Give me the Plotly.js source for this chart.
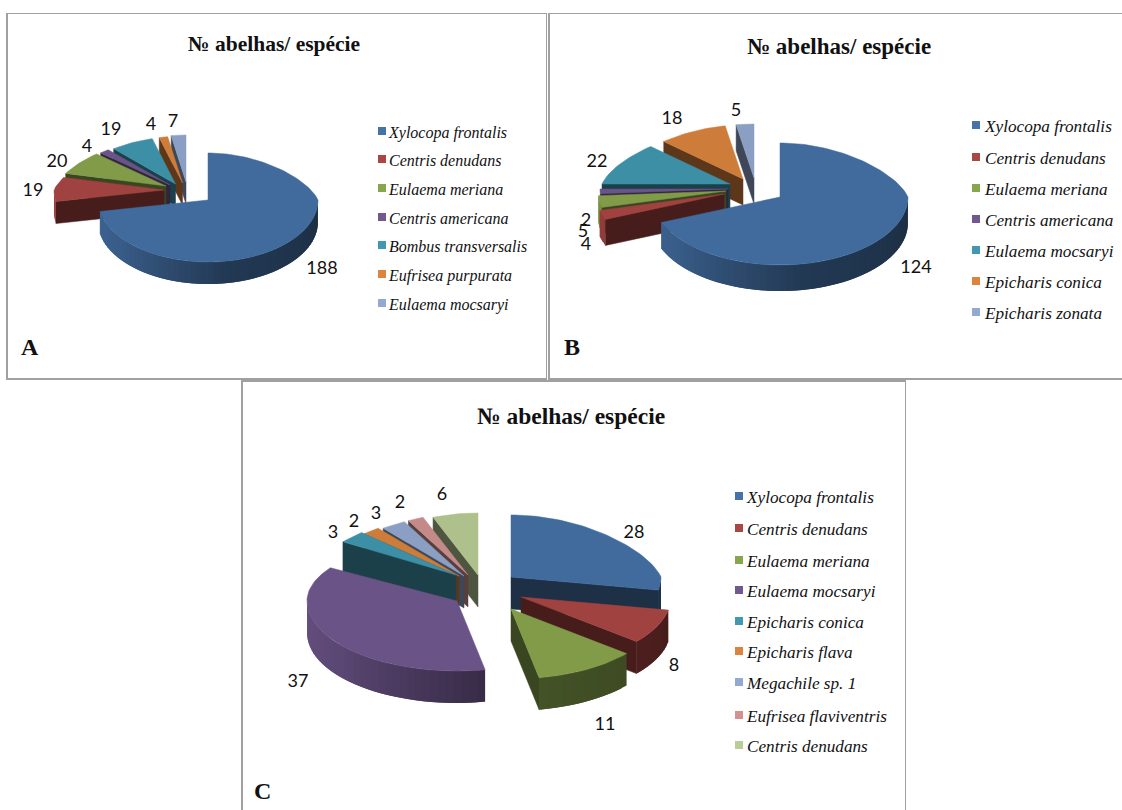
<!DOCTYPE html>
<html>
<head>
<meta charset="utf-8">
<script src="https://cdn.plot.ly/plotly-3.0.1.min.js"></script>
<style>html,body{margin:0;padding:0;background:#fff}#chart{width:1122px;height:810px}</style>
</head>
<body>
<div id="chart"></div>
<script>
// Bee counts per species for the three sampling areas
const namesA = ['Xylocopa frontalis','Centris denudans','Eulaema meriana','Centris americana','Bombus transversalis','Eufrisea purpurata','Eulaema mocsaryi'];
const valuesA = [188,19,20,4,19,4,7];
const namesB = ['Xylocopa frontalis','Centris denudans','Eulaema meriana','Centris americana','Eulaema mocsaryi','Epicharis conica','Epicharis zonata'];
const valuesB = [124,4,5,2,22,18,5];
const namesC = ['Xylocopa frontalis','Centris denudans','Eulaema meriana','Eulaema mocsaryi','Epicharis conica','Epicharis flava','Megachile sp. 1','Eufrisea flaviventris','Centris denudans'];
const valuesC = [28,8,11,37,3,2,3,2,6];

const palette = [[69,114,167],[170,70,67],[137,165,78],[113,88,143],[65,152,175],[219,132,61],[147,169,207],[209,147,146],[185,205,150]];
const titleText = '№ abelhas/ espécie';

// Panel geometry in page pixels: frame, exploded slice origins, ellipse radii, extrusion depth.
// Taper narrows the far side of a slice to suggest perspective.
const panels = [
  {letter:'A', names:namesA, values:valuesA, box:[7.5,14,545.5,378], xa:'x', ya:'y', titleAt:[274,44], titleSize:21.5, letterAt:[30,347],
   origins:[[208,200],[164,190],[166,186],[170,185],[175.5,184],[182.5,183],[186,182]],
   taper:[.2,.2,.2,.2,.2,.2,.2],
   rx:110, ryBack:47, ryFront:62, depth:22, legendSize:16,
   labelAt:[[322,269],[33,191],[57,162],[87,147],[111,130],[151,125],[173,122]],
   legendX:382, legendText:389, legendY:[131,159,188,217,245,274,303]},
  {letter:'B', names:namesB, values:valuesB, box:[549.5,14,1122,378], xa:'x2', ya:'y2', titleAt:[839,47], titleSize:23, letterAt:[572,347],
   origins:[[780,197],[724,194],[726,191],[728,189],[730,184],[743,179],[754,178]],
   taper:[.2,.2,.2,.2,.2,.2,.2],
   rx:128, ryBack:54, ryFront:68, depth:26, legendSize:17.2,
   labelAt:[[916,268],[586,245],[583,232],[586,221],[597,162],[672,119],[736,111]],
   legendX:976, legendText:985, legendY:[125,157,188,219,250,281,312]},
  {letter:'C', names:namesC, values:valuesC, box:[242.5,381.5,904.5,810], xa:'x3', ya:'y3', titleAt:[571,416], titleSize:23.5, letterAt:[262,791],
   origins:[[511,577],[521,597],[511,609],[457,601],[456,575],[459,576],[464,576],[468,575],[478,575]],
   taper:[.2,.2,.2,0,.2,.2,.2,.2,.2],
   rx:150, ryBack:62, ryFront:70, depth:32, legendSize:17.2,
   labelAt:[[634,533],[674,666],[605,725],[298,682],[333,533],[354,522],[376,514],[400,503],[442,495]],
   legendX:739, legendText:747, legendY:[496,528,560,590,621,651,682,715,745]}
];

const rad = d => d*Math.PI/180;
const css = (c,s) => 'rgb('+c.map(v=>Math.round(v*s)).join(',')+')';

// Rim brightness around the front of a slice: dark on the right, lighter to the left
const shadeStops = [[90,.4],[170,.5],[230,.8],[270,.9]];
function rimShade(a){
  for(let i=1;i<shadeStops.length;i++){
    const [a0,s0]=shadeStops[i-1],[a1,s1]=shadeStops[i];
    if(a<=a1) return s0+(s1-s0)*(a-a0)/(a1-a0);
  }
  return .9;
}

const traces = [];
function poly(p,xs,ys,color,edge){
  traces.push({type:'scatter',mode:'lines',x:xs,y:ys,xaxis:p.xa,yaxis:p.ya,fill:'toself',fillcolor:color,
    line:{color:color,width:edge},hoverinfo:'skip',showlegend:false});
}

panels.forEach(p=>{
  const total = p.values.reduce((a,b)=>a+b,0);
  let acc = 0;
  const slices = p.values.map((v,i)=>{
    const start = acc/total*360; acc += v;
    return {i, start, end:acc/total*360};
  });
  const rimPt = (s,a)=>{
    const o=p.origins[s.i], c=Math.cos(rad(a));
    const narrow = 1-p.taper[s.i]*Math.max(0,c);
    return [o[0]+p.rx*Math.sin(rad(a))*narrow, o[1]-c*(c>0?p.ryBack:p.ryFront)];
  };
  // Painter's order: slices at the back are laid down first
  slices.sort((s,t)=>Math.cos(rad((t.start+t.end)/2))-Math.cos(rad((s.start+s.end)/2)));
  slices.forEach(s=>{
    const col = palette[s.i], o = p.origins[s.i];
    const cut = a=>{
      const r=rimPt(s,a);
      poly(p,[o[0],r[0],r[0],o[0],o[0]],[o[1],r[1],r[1]+p.depth,o[1]+p.depth,o[1]],css(col,.42),.5);
    };
    if(s.start>=180) cut(s.start);
    if(s.end<=180) cut(s.end);
    // Outer wall, only where it faces the viewer; strips overlap so no seams show
    const from=Math.max(s.start,90), to=Math.min(s.end,270), step=3;
    for(let a=from;a<to;a+=step){
      const b=Math.min(a+step*2,to), r0=rimPt(s,a), r1=rimPt(s,b);
      poly(p,[r0[0],r1[0],r1[0],r0[0],r0[0]],[r0[1],r1[1],r1[1]+p.depth,r0[1]+p.depth,r0[1]],css(col,rimShade(a+step/2)),0);
    }
    // Top face
    const xs=[o[0]], ys=[o[1]];
    for(let a=s.start;;a+=2){
      const q=rimPt(s,Math.min(a,s.end)); xs.push(q[0]); ys.push(q[1]);
      if(a>=s.end) break;
    }
    xs.push(o[0]); ys.push(o[1]);
    poly(p,xs,ys,css(col,.94),.5);
  });

  // Value labels
  traces.push({type:'scatter',mode:'text',x:p.labelAt.map(l=>l[0]),y:p.labelAt.map(l=>l[1]),text:p.values.map(String),
    textposition:'middle center',textfont:{family:'Lato',size:18,color:'#111'},xaxis:p.xa,yaxis:p.ya,hoverinfo:'skip',showlegend:false,cliponaxis:false});

  // Key: colour squares and species names
  traces.push({type:'scatter',mode:'markers',x:p.names.map(()=>p.legendX),y:p.legendY,
    marker:{symbol:'square',size:8,color:p.names.map((_,i)=>css(palette[i],1))},xaxis:p.xa,yaxis:p.ya,hoverinfo:'skip',showlegend:false});
  traces.push({type:'scatter',mode:'text',x:p.names.map(()=>p.legendText),y:p.legendY.map(y=>y+3),text:p.names,
    textposition:'middle right',textfont:{family:'Liberation Serif',size:p.legendSize,style:'italic',color:'#111'},xaxis:p.xa,yaxis:p.ya,hoverinfo:'skip',showlegend:false,cliponaxis:false});
});

const W=1122,H=810;
const layout={width:W,height:H,margin:{l:0,r:0,t:0,b:0},paper_bgcolor:'#fff',plot_bgcolor:'#fff',showlegend:false,annotations:[]};
panels.forEach((p,k)=>{
  const sfx=k?String(k+1):'';
  const ax={showgrid:false,zeroline:false,showticklabels:false,ticks:'',showline:true,mirror:true,linecolor:'#a0a0a0',linewidth:1.5,fixedrange:true};
  layout['xaxis'+sfx]=Object.assign({},ax,{domain:[p.box[0]/W,p.box[2]/W],range:[p.box[0],p.box[2]],anchor:'y'+sfx});
  layout['yaxis'+sfx]=Object.assign({},ax,{domain:[1-p.box[3]/H,1-p.box[1]/H],range:[p.box[3],p.box[1]],anchor:'x'+sfx});
  layout.annotations.push({xref:p.xa,yref:p.ya,x:p.titleAt[0],y:p.titleAt[1],text:'<b>'+titleText+'</b>',showarrow:false,
    font:{family:'Liberation Serif',size:p.titleSize,color:'#111'}});
  layout.annotations.push({xref:p.xa,yref:p.ya,x:p.letterAt[0],y:p.letterAt[1],text:'<b>'+p.letter+'</b>',showarrow:false,
    font:{family:'Liberation Serif',size:24,color:'#111'}});
});
// The lower panel's frame runs off the page, so it has no bottom edge
Object.assign(layout.xaxis3,{side:'top',mirror:false});
Plotly.newPlot('chart',traces,layout,{displayModeBar:false,staticPlot:true});
</script>
</body>
</html>
